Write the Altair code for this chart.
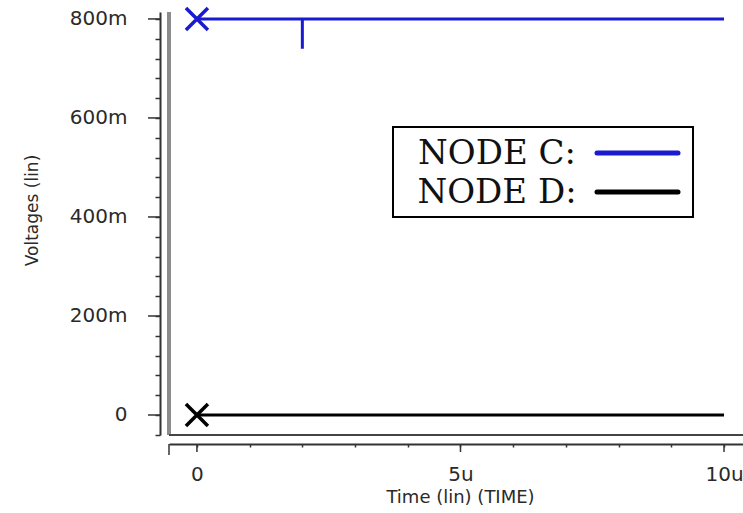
import altair as alt
import pandas as pd

# ---- data ----
c_time = [0, 2, 2, 2, 10]            # microseconds
c_volt = [800, 800, 740, 800, 800]   # millivolts
d_time = [0, 10]
d_volt = [0, 0]
series_names = ["NODE C:", "NODE D:"]
series_colors = ["#1a1ad0", "#000000"]
marker_time = [0, 0]
marker_volt = [800, 0]
y_ticks_all = [-40, 0, 40, 80, 120, 160, 200, 240, 280, 320, 360, 400, 440,
               480, 520, 560, 600, 640, 680, 720, 760, 800]
y_ticks_major = [0, 200, 400, 600, 800]
x_ticks_all = [0, 1, 2, 3, 4, 5, 6, 7, 8, 9, 10]
x_ticks_major = [0, 5, 10]

W, H = 574, 423

rows = []
for s, ts, vs in [(series_names[0], c_time, c_volt), (series_names[1], d_time, d_volt)]:
    for i, (t, v) in enumerate(zip(ts, vs)):
        rows.append({"series": s, "t": t, "v": v, "i": i})
line_df = pd.DataFrame(rows)
marker_df = pd.DataFrame({"series": series_names, "t": marker_time, "v": marker_volt})

xs = alt.Scale(domain=[-0.53, 10.36], nice=False, zero=False)
ys = alt.Scale(domain=[-40.4, 814], nice=False, zero=False)
cs = alt.Scale(domain=series_names, range=series_colors)

x_axis = alt.Axis(
    values=x_ticks_all,
    labelExpr="datum.value === 0 ? '0' : (datum.value % 5 === 0 ? datum.value + 'u' : '')",
    tickSize=3, tickColor="#333", tickWidth=1.5, offset=9,
    domainColor="#333", domainWidth=2, grid=False,
    labelPadding=17, labelFont="DejaVu Sans", labelFontSize=20, labelColor="#2a2a2a",
    labelFlush=False, labelOverlap=False,
    title="Time (lin) (TIME)", titleFont="DejaVu Sans", titleFontSize=18,
    titleFontWeight="normal", titleColor="#2a2a2a", titleX=291, titleY=53,
    titleBaseline="middle",
)
y_axis = alt.Axis(
    values=y_ticks_all,
    labelExpr="datum.value % 200 === 0 ? (datum.value === 0 ? '0' : datum.value + 'm') : ''",
    tickSize=5, tickColor="#333", tickWidth=1.5, offset=9,
    domainColor="#333", domainWidth=2, grid=False,
    labelPadding=28, labelFont="DejaVu Sans", labelFontSize=20, labelColor="#2a2a2a",
    labelFlush=False, labelOverlap=False,
    title="Voltages (lin)", titleFont="DejaVu Sans", titleFontSize=17,
    titleFontWeight="normal", titleColor="#2a2a2a", titleX=-128, titleY=198,
    titleBaseline="middle", titleAngle=270,
)

X = alt.X("t:Q", scale=xs, axis=x_axis)
Y = alt.Y("v:Q", scale=ys, axis=y_axis)

lines = alt.Chart(line_df).mark_line(strokeWidth=3, clip=True).encode(
    x=X, y=Y,
    color=alt.Color("series:N", scale=cs, legend=None),
    order="i:Q",
    detail="series:N",
)

markers = alt.Chart(marker_df).mark_point(
    shape="M-1,-1L1,1M-1,1L1,-1", size=484, filled=False, strokeWidth=3.5, opacity=1
).encode(
    x=X, y=Y,
    color=alt.Color("series:N", scale=cs, legend=None),
)

ymaj = alt.Chart(pd.DataFrame({"v": y_ticks_major})).mark_rule(color="#333", strokeWidth=1.5).encode(
    y=Y, x=alt.value(-21), x2=alt.value(-9)
)
xmaj = alt.Chart(pd.DataFrame({"t": x_ticks_major})).mark_rule(color="#333", strokeWidth=1.5).encode(
    x=X, y=alt.value(H + 9), y2=alt.value(H + 17)
)

one = pd.DataFrame({"a": [0]})
frame_left = alt.Chart(one).mark_rule(color="#8c8c8c", strokeWidth=4).encode(
    x=alt.value(0), y=alt.value(0), y2=alt.value(H)
)
frame_bottom = alt.Chart(one).mark_rule(color="#444", strokeWidth=2).encode(
    x=alt.value(0), x2=alt.value(W), y=alt.value(H)
)
x_bracket = alt.Chart(one).mark_rule(color="#333", strokeWidth=1.5).encode(
    x=alt.value(0), y=alt.value(H + 9), y2=alt.value(H + 20)
)

legend_box = alt.Chart(one).mark_rect(fill="white", stroke="black", strokeWidth=2).encode(
    x=alt.value(224), x2=alt.value(524), y=alt.value(115), y2=alt.value(205)
)
legend_layers = [legend_box]
for k, (name, col) in enumerate(zip(series_names, series_colors)):
    ldf = pd.DataFrame({"name": [name]})
    legend_layers.append(
        alt.Chart(ldf).mark_text(align="center", baseline="middle", font="DejaVu Serif",
                                 fontSize=34, color="#111").encode(
            text="name:N", x=alt.value(328), y=alt.value(142 + 39 * k)
        )
    )
    legend_layers.append(
        alt.Chart(ldf).mark_rule(strokeWidth=5, strokeCap="round", color=col).encode(
            x=alt.value(428), x2=alt.value(509), y=alt.value(141 + 39 * k)
        )
    )

chart = alt.layer(
    lines, frame_left, frame_bottom, x_bracket, markers, ymaj, xmaj, *legend_layers
).properties(
    width=W, height=H,
    padding={"left": 169, "top": 12, "right": 0, "bottom": 78},
    autosize=alt.AutoSizeParams(type="none"),
    background="white",
).configure_view(stroke=None)

chart.save("out.html", embed_options={"renderer": "svg", "actions": False})
